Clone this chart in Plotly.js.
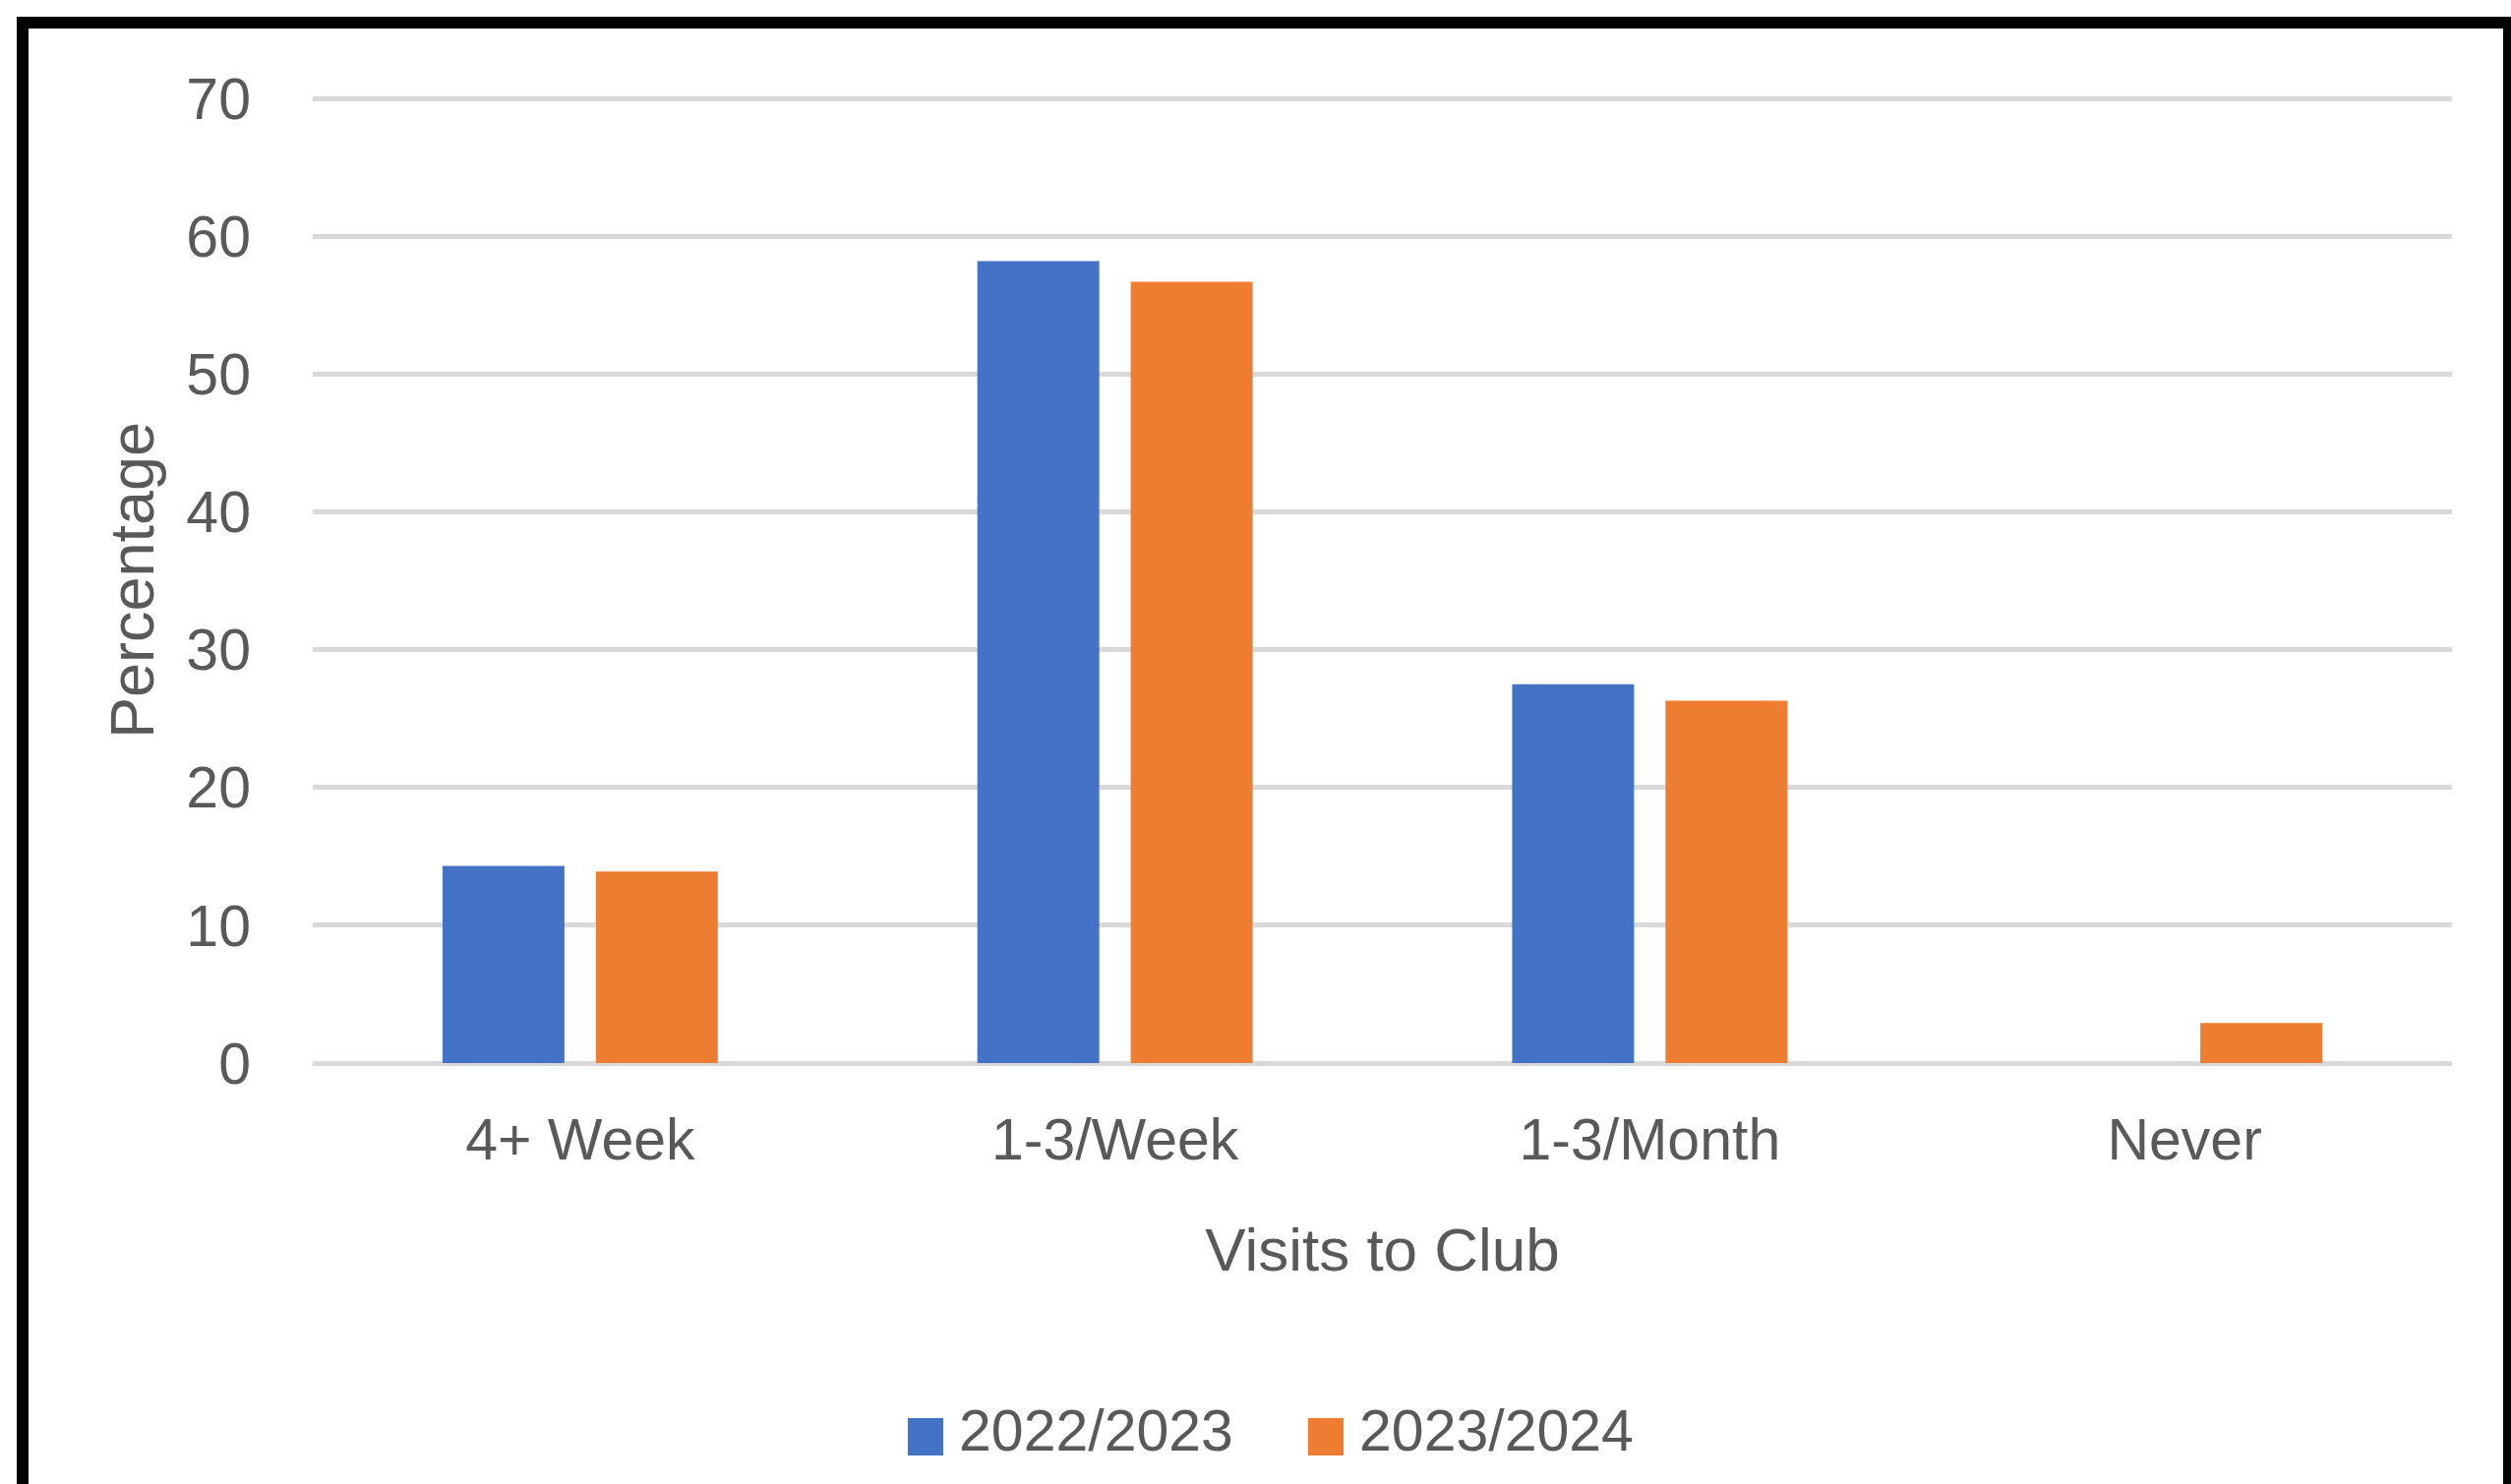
<!DOCTYPE html>
<html><head><meta charset="utf-8">
<script src="https://cdn.plot.ly/plotly-3.0.1.min.js"></script>
<style>html,body{margin:0;padding:0;background:#fff;overflow:hidden}</style>
</head><body><div id="chart" style="width:2553px;height:1509px"></div>
<script>
// ---- data ----
const categories = ['4+ Week', '1-3/Week', '1-3/Month', 'Never'];
const seriesNames = ['2022/2023', '2023/2024'];
const values2022 = [14.3, 58.2, 27.5, 0];
const values2023 = [13.9, 56.7, 26.3, 2.9];
const seriesColors = ['#4472C4', '#ED7D31'];
const yTicks = [0, 10, 20, 30, 40, 50, 60, 70];
const xTitle = 'Visits to Club';
const yTitle = 'Percentage';

// ---- geometry ----
const W = 2553, H = 1509;
const PL = 318, PR = 2493, PT = 99, PB = 1081;
const pw = PR - PL, ph = PB - PT;
const px = x => (x - PL) / pw;
const py = y => (PB - y) / ph;
const FONT = '"Liberation Sans", Arial, sans-serif';
const TXT = '#595959';

const seriesValues = [values2022, values2023];
const traces = seriesNames.map((n, i) => ({
  type: 'bar', name: n, x: categories, y: seriesValues[i],
  marker: {color: seriesColors[i], line: {width: 0}},
  hoverinfo: 'x+y+name'
}));

// manual legend (large square swatches like the reference)
const legendSwatchX = [923, 1330];
const shapes = [];
const annotations = [];
seriesNames.forEach((n, i) => {
  shapes.push({type: 'rect', xref: 'paper', yref: 'paper',
    x0: px(legendSwatchX[i]), x1: px(legendSwatchX[i] + 36),
    y0: py(1480), y1: py(1442),
    fillcolor: seriesColors[i], line: {width: 0}});
  annotations.push({xref: 'paper', yref: 'paper', x: px(legendSwatchX[i] + 50), y: py(1455),
    xanchor: 'left', yanchor: 'middle', showarrow: false, text: n,
    font: {family: FONT, size: 59, color: TXT}});
});
// outer black frame
shapes.push({type: 'rect', xref: 'paper', yref: 'paper',
  x0: px(23), x1: px(2551), y0: py(1700), y1: py(23),
  line: {color: '#000', width: 12}, fillcolor: 'rgba(0,0,0,0)'});

const layout = {
  width: W, height: H,
  margin: {l: PL, r: W - PR, t: PT, b: H - PB, pad: 0},
  paper_bgcolor: '#fff', plot_bgcolor: '#fff',
  showlegend: false,
  bargap: 0.4265, bargroupgap: 0.205, barmode: 'group',
  font: {family: FONT, color: TXT},
  xaxis: {
    type: 'category', showgrid: false, zeroline: false, showline: false,
    ticks: '', tickfont: {size: 59, color: TXT}, ticklabelstandoff: 38,
    title: {text: xTitle, font: {size: 62, color: TXT}, standoff: 57},
    automargin: false
  },
  yaxis: {
    range: [0, 70.08], tickvals: yTicks, ticktext: yTicks.map(String),
    showgrid: true, gridcolor: '#D9D9D9', gridwidth: 5,
    zeroline: true, zerolinecolor: '#D9D9D9', zerolinewidth: 5,
    showline: false, ticks: '', tickfont: {size: 59, color: TXT},
    ticklabelstandoff: 62,
    title: {text: yTitle, font: {size: 63, color: TXT}, standoff: 12},
    automargin: false
  },
  shapes: shapes, annotations: annotations
};
Plotly.newPlot('chart', traces, layout, {displayModeBar: false, staticPlot: true});
</script></body></html>
